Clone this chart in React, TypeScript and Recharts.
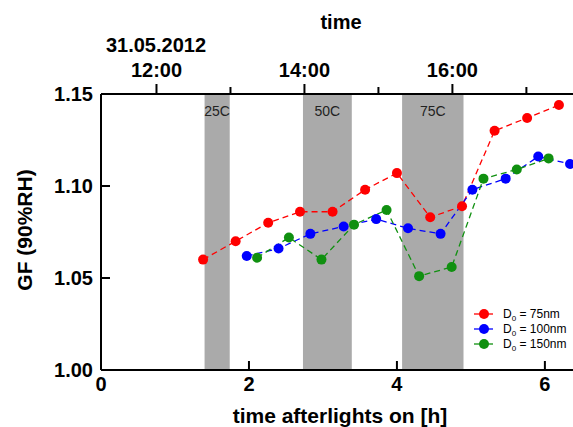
import React from 'react';
import {
  LineChart,
  Line,
  XAxis,
  YAxis,
  ReferenceArea,
} from 'recharts';

// hours after lights on vs. growth factor, per dry diameter
const redH = [1.38, 1.82, 2.26, 2.69, 3.13, 3.57, 4.0, 4.45, 4.88, 5.32, 5.76, 6.19];
const redGF = [1.06, 1.07, 1.08, 1.086, 1.086, 1.098, 1.107, 1.083, 1.089, 1.13, 1.137, 1.144];
const blueH = [1.97, 2.4, 2.83, 3.28, 3.72, 4.15, 4.59, 5.02, 5.47, 5.91, 6.34];
const blueGF = [1.062, 1.066, 1.074, 1.078, 1.082, 1.077, 1.074, 1.098, 1.104, 1.116, 1.112];
const greenH = [2.11, 2.54, 2.98, 3.42, 3.86, 4.3, 4.74, 5.17, 5.62, 6.05];
const greenGF = [1.061, 1.072, 1.06, 1.079, 1.087, 1.051, 1.056, 1.104, 1.109, 1.115];

const diameters = ['75nm', '100nm', '150nm'];
const colors = ['#ff0000', '#0000ff', '#109010'];

// heating periods (hours after lights on)
const bandStart = [1.4, 2.73, 4.07];
const bandEnd = [1.74, 3.39, 4.9];
const bandLabels = ['25C', '50C', '75C'];

const bottomTicks = [0, 2, 4, 6];
const yTicks = [1.0, 1.05, 1.1, 1.15];
const topTicks = [0.75, 1.75, 2.75, 3.75, 4.75, 5.75];
const topLabels = ['12:00', '', '14:00', '', '16:00', ''];

const FONT = '"Liberation Sans", Arial, sans-serif';

const toRows = (h: number[], v: number[]) => h.map((x, i) => ({ h: x, gf: v[i] }));
const series = [toRows(redH, redGF), toRows(blueH, blueGF), toRows(greenH, greenGF)];

const BottomTick = ({ x, y, payload }: any) => (
  <g>
    <line x1={x} x2={x} y1={y} y2={y - 9} stroke="#000" strokeWidth={2} />
    <text x={x} y={y + 21} textAnchor="middle" fontFamily={FONT} fontWeight="bold" fontSize={20} fill="#000">
      {payload.value}
    </text>
  </g>
);

const TopTick = ({ x, y, index }: any) => {
  const label = topLabels[index] || '';
  return (
    <g>
      <line x1={x} x2={x} y1={y} y2={y - (label ? 10 : 7)} stroke="#000" strokeWidth={2} />
      {label && (
        <text x={x} y={y - 17} textAnchor="middle" fontFamily={FONT} fontWeight="bold" fontSize={20} fill="#000">
          {label}
        </text>
      )}
    </g>
  );
};

const LeftTick = ({ x, y, payload }: any) => (
  <g>
    <line x1={x} x2={x + 9} y1={y} y2={y} stroke="#000" strokeWidth={2} />
    <text x={x - 8} y={y + 7} textAnchor="end" fontFamily={FONT} fontWeight="bold" fontSize={20} fill="#000">
      {Number(payload.value).toFixed(2)}
    </text>
  </g>
);

export default function App() {
  return (
    <div style={{ position: 'absolute', left: 0, top: 0, width: 573, height: 427, overflow: 'hidden' }}>
      <LineChart width={573} height={427} margin={{ top: 0, right: 0, bottom: 0, left: 0 }}>
        {bandStart.map((s, i) => (
          <ReferenceArea
            key={bandLabels[i]}
            x1={s}
            x2={bandEnd[i]}
            fill="#aaaaaa"
            fillOpacity={1}
            stroke="none"
            label={{ value: bandLabels[i], position: 'insideTop', offset: 12, fontSize: 14, fill: '#222', fontFamily: FONT }}
          />
        ))}
        <XAxis
          type="number"
          dataKey="h"
          domain={[0, 6.38]}
          ticks={bottomTicks}
          height={57}
          tickSize={0}
          tickMargin={0}
          tickLine={false}
          axisLine={{ stroke: '#000', strokeWidth: 2 }}
          tick={<BottomTick />}
          allowDataOverflow
        />
        <XAxis
          xAxisId="top"
          orientation="top"
          type="number"
          dataKey="h"
          domain={[0, 6.38]}
          ticks={topTicks}
          height={94}
          tickSize={0}
          tickMargin={0}
          tickLine={false}
          axisLine={{ stroke: '#000', strokeWidth: 2 }}
          tick={<TopTick />}
          interval={0}
          allowDataOverflow
        />
        <YAxis
          type="number"
          domain={[1.0, 1.15]}
          ticks={yTicks}
          width={101}
          tickSize={0}
          tickMargin={0}
          tickLine={false}
          axisLine={{ stroke: '#000', strokeWidth: 2 }}
          tick={<LeftTick />}
          interval={0}
        />
        {series.map((rows, i) => (
          <Line
            key={diameters[i]}
            data={rows}
            dataKey="gf"
            name={diameters[i]}
            type="linear"
            stroke={colors[i]}
            strokeWidth={1.3}
            strokeDasharray="6 4"
            dot={{ r: 5, fill: colors[i], stroke: 'none' }}
            isAnimationActive={false}
          />
        ))}
      </LineChart>
      <svg width={573} height={427} style={{ position: 'absolute', left: 0, top: 0, pointerEvents: 'none' }}>
        <text x={341} y={29} textAnchor="middle" fontFamily={FONT} fontWeight="bold" fontSize={20}>time</text>
        <text x={156} y={52} textAnchor="middle" fontFamily={FONT} fontWeight="bold" fontSize={20}>31.05.2012</text>
        <text x={340} y={423} textAnchor="middle" fontFamily={FONT} fontWeight="bold" fontSize={21}>time afterlights on [h]</text>
        <text
          x={32}
          y={230}
          textAnchor="middle"
          transform="rotate(-90 32 230)"
          fontFamily={FONT}
          fontWeight="bold"
          fontSize={21}
        >
          GF (90%RH)
        </text>
        <g transform="translate(470 306)">
          {diameters.map((d, i) => (
            <g key={d}>
              <line x1={4} x2={23} y1={8 + i * 15} y2={8 + i * 15} stroke={colors[i]} strokeWidth={1.3} />
              <circle cx={14} cy={8 + i * 15} r={5} fill={colors[i]} />
              <text x={33} y={12 + i * 15} fontFamily={FONT} fontSize={12} fill="#000">
                D<tspan fontSize={8} dy={3}>0</tspan>
                <tspan dy={-3}> = {d}</tspan>
              </text>
            </g>
          ))}
        </g>
      </svg>
    </div>
  );
}
